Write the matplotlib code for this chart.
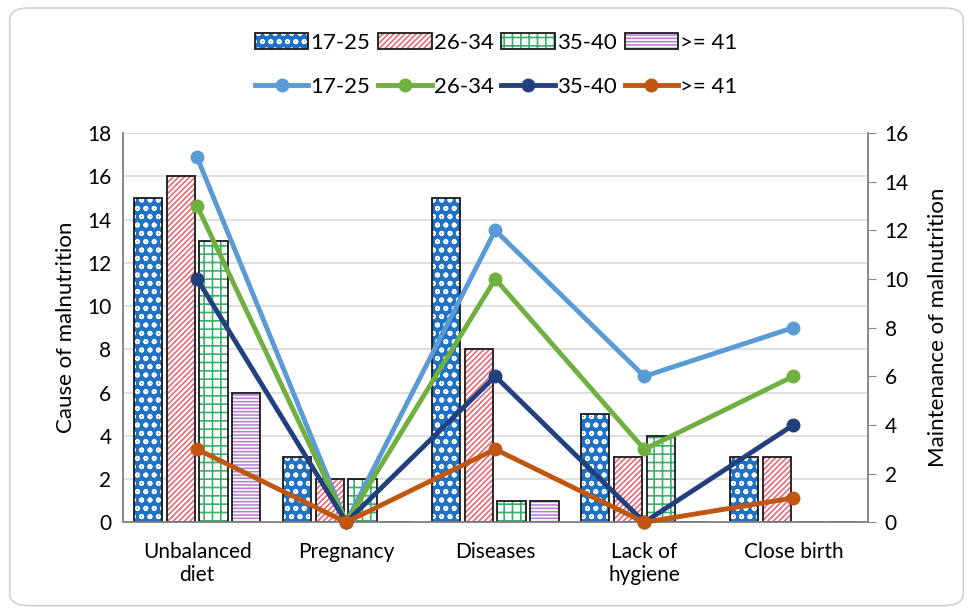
import numpy as np
import matplotlib.pyplot as plt
from matplotlib.patches import FancyBboxPatch, Patch
from matplotlib.lines import Line2D
from matplotlib.legend_handler import HandlerTuple

plt.rcParams['font.family'] = ['Lato', 'DejaVu Sans']
plt.rcParams['hatch.linewidth'] = 1.2

categories = ['Unbalanced\ndiet', 'Pregnancy', 'Diseases', 'Lack of\nhygiene', 'Close birth']
groups = ['17-25', '26-34', '35-40', '>= 41']

# bars: cause of malnutrition (left axis)
cause_17_25 = [15, 3, 15, 5, 3]
cause_26_34 = [16, 2, 8, 3, 3]
cause_35_40 = [13, 2, 1, 4, 0]
cause_41 = [6, 0, 1, 0, 0]

# lines: maintenance of malnutrition (right axis)
maint_17_25 = [15, 0, 12, 6, 8]
maint_26_34 = [13, 0, 10, 3, 6]
maint_35_40 = [10, 0, 6, 0, 4]
maint_41 = [3, 0, 3, 0, 1]

bar_styles = [('#1f72c4', 'white', 'oo'),      # face, hatch colour, hatch
              ('white', '#e06c78', '//////'),
              ('white', '#3aae6a', '++'),
              ('white', '#b585cc', '-----')]
line_colors = ['#5b9bd5', '#6fb040', '#22407e', '#c0560f']

fig = plt.figure(figsize=(9.73, 6.13), dpi=100)
fig.patches.append(FancyBboxPatch((0.01, 0.012), 0.98, 0.975, boxstyle='round,pad=0,rounding_size=0.02',
                                  transform=fig.transFigure, facecolor='white',
                                  edgecolor='#d0d0d0', lw=1.2, zorder=-10))
ax = fig.add_axes([0.126, 0.148, 0.766, 0.635])
ax.set_facecolor('none')
ax2 = ax.twinx()

x = np.arange(len(categories))
w = 0.19
step = 0.22
bars = [cause_17_25, cause_26_34, cause_35_40, cause_41]
for i, vals in enumerate(bars):
    face, hc, hatch = bar_styles[i]
    pos = x + (i - 1.5) * step
    ax.bar(pos, vals, w, color=face, edgecolor=hc, hatch=hatch, lw=0, zorder=2)
    ax.bar(pos, vals, w, fill=False, edgecolor='#1a1a1a', lw=1.3, zorder=3)

lines = [maint_17_25, maint_26_34, maint_35_40, maint_41]
for i, vals in enumerate(lines):
    ax2.plot(x, vals, color=line_colors[i], lw=3.5, marker='o', ms=9,
             mec=line_colors[i], clip_on=False, zorder=4)

ax.set_xlim(-0.5, 4.5)
ax.set_ylim(0, 18)
ax.set_yticks(range(0, 19, 2))
ax2.set_ylim(0, 16)
ax2.set_yticks(range(0, 17, 2))
ax.set_xticks(x)
ax.set_xticklabels(categories, fontsize=15)
ax.tick_params(axis='x', length=0, pad=14)
ax.tick_params(axis='y', length=0, labelsize=15, pad=8)
ax2.tick_params(axis='y', length=6, labelsize=15, color='#888888', pad=6)
ax.yaxis.grid(True, color='#d9d9d9', lw=1.2, zorder=0)
ax.set_axisbelow(True)

for a in (ax, ax2):
    a.spines['top'].set_visible(False)
    for s in ('left', 'bottom', 'right'):
        a.spines[s].set_color('#888888')
        a.spines[s].set_linewidth(1.2)

ax.set_ylabel('Cause of malnutrition', fontsize=16, labelpad=8)
ax2.set_ylabel('Maintenance of malnutrition', fontsize=16, labelpad=14)

bar_handles = [(Patch(facecolor=bar_styles[i][0], edgecolor=bar_styles[i][1],
                      hatch=bar_styles[i][2], lw=0),
                Patch(fill=False, edgecolor='#1a1a1a', lw=1.3)) for i in range(4)]
line_handles = [Line2D([], [], color=c, lw=3.5, marker='o', ms=9) for c in line_colors]
fig.legend(bar_handles, groups, loc='center', bbox_to_anchor=(0.51, 0.93), ncol=4,
           frameon=False, fontsize=16, handlelength=2.4, handletextpad=0.1,
           columnspacing=0.35, handler_map={tuple: HandlerTuple(ndivide=1)})
fig.legend(line_handles, groups, loc='center', bbox_to_anchor=(0.51, 0.858), ncol=4,
           frameon=False, fontsize=16, handlelength=2.4, handletextpad=0.1,
           columnspacing=0.35)

fig.savefig('out.png', dpi=100)
